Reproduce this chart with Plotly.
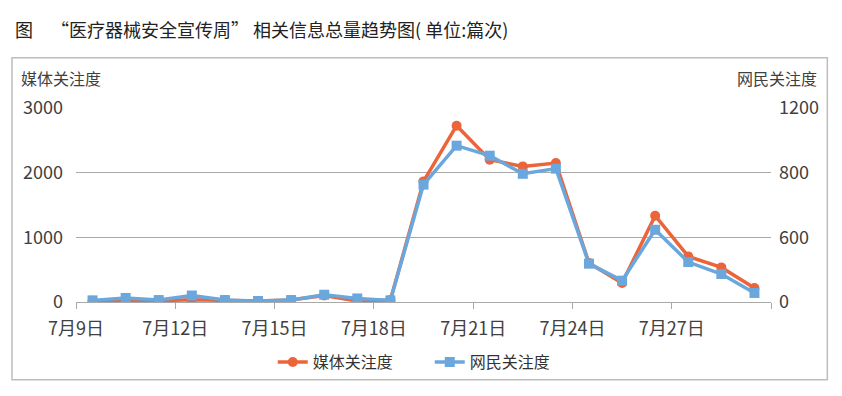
import plotly.graph_objects as go

dates = [f"7月{d}日" for d in range(9, 30)]
media = [20, 15, 20, 35, 30, 15, 30, 100, 15, 30,
         1865, 2726, 2200, 2097, 2149, 603, 294, 1334, 705, 535, 216]
netizen = [10, 25, 12, 40, 12, 6, 12, 45, 22, 10,
           726, 967, 905, 793, 825, 237, 132, 447, 247, 173, 56]
x_labels = ["7月9日", "7月12日", "7月15日", "7月18日", "7月21日", "7月24日", "7月27日"]
left_ticks = [0, 1000, 2000, 3000]
right_tickvals = [0, 400, 800, 1200]
right_ticktext = ["0", "600", "800", "1200"]

xs = list(range(len(dates)))
label_pos = [dates.index(lbl) - 0.5 for lbl in x_labels]
tick_pos = label_pos + [len(dates) - 0.5]

FONT = "Noto Sans CJK SC"
TXT = "#404040"
GRID = "#a9a9a9"
ORANGE = "#EC6439"
BLUE = "#6AA7DD"

fig = go.Figure()
fig.add_trace(go.Scatter(
    x=xs, y=media, name="媒体关注度", mode="lines+markers",
    line=dict(color=ORANGE, width=3.5),
    marker=dict(symbol="circle", size=10, color=ORANGE),
    text=dates, hovertemplate="%{text}: %{y}<extra></extra>",
))
fig.add_trace(go.Scatter(
    x=xs, y=netizen, name="网民关注度", mode="lines+markers", yaxis="y2",
    line=dict(color=BLUE, width=3.5),
    marker=dict(symbol="square", size=10, color=BLUE),
    text=dates, hovertemplate="%{text}: %{y}<extra></extra>",
))

fig.update_layout(
    width=842, height=396, autosize=False,
    margin=dict(l=76, r=71, t=108, b=94),
    paper_bgcolor="white", plot_bgcolor="white",
    font=dict(family=FONT, size=16, color=TXT),
    showlegend=True,
    legend=dict(orientation="h", x=0.509, xanchor="center", y=-0.31, yanchor="middle",
                font=dict(size=16, color="#333333"), itemwidth=30, tracegroupgap=0,
                entrywidth=112, entrywidthmode="pixels"),
    xaxis=dict(
        range=[-0.5, len(dates) - 0.5], showgrid=False, zeroline=False,
        showline=True, linecolor=GRID, linewidth=1,
        tickmode="array", tickvals=tick_pos,
        ticktext=x_labels + [""], ticks="outside", ticklen=6, tickcolor=GRID,
        tickfont=dict(size=18, color=TXT), ticklabelstandoff=4,
    ),
    yaxis=dict(
        range=[0, 3000], tickvals=left_ticks, showgrid=True, gridcolor=GRID,
        gridwidth=1, zeroline=False, showline=False, ticks="",
        tickfont=dict(size=18, color=TXT), ticklabelstandoff=12,
    ),
    yaxis2=dict(
        range=[0, 1200], overlaying="y", side="right", showgrid=False,
        zeroline=False, showline=False, ticks="",
        tickmode="array", tickvals=right_tickvals, ticktext=right_ticktext,
        tickfont=dict(size=18, color=TXT), ticklabelstandoff=7,
    ),
    shapes=[dict(type="rect", xref="paper", yref="paper",
                 x0=(12 - 76) / 694.7, x1=(827 - 76) / 694.7,
                 y0=(302.3 - 380) / 194, y1=(302.3 - 58) / 194,
                 line=dict(color="#bdbdbd", width=1.5), fillcolor="rgba(0,0,0,0)",
                 layer="below")],
    annotations=[
        dict(text="图\u2003\u201c医疗器械安全宣传周\u201d 相关信息总量趋势图( 单位:篇次)",
             xref="paper", yref="paper", x=(13 - 76) / 694.7, y=(302.3 - 29) / 194,
             xanchor="left", yanchor="middle", showarrow=False,
             font=dict(size=18, color="#222222", family=FONT)),
        dict(text="媒体关注度", xref="paper", yref="paper",
             x=(19 - 76) / 694.7, y=(302.3 - 78) / 194,
             xanchor="left", yanchor="middle", showarrow=False,
             font=dict(size=16, color=TXT)),
        dict(text="网民关注度", xref="paper", yref="paper",
             x=(819 - 76) / 694.7, y=(302.3 - 78) / 194,
             xanchor="right", yanchor="middle", showarrow=False,
             font=dict(size=16, color=TXT)),
    ],
)

fig.write_html("out.html", config={"displayModeBar": False},
               post_script="document.body.style.margin='0';document.body.style.overflow='hidden';")
